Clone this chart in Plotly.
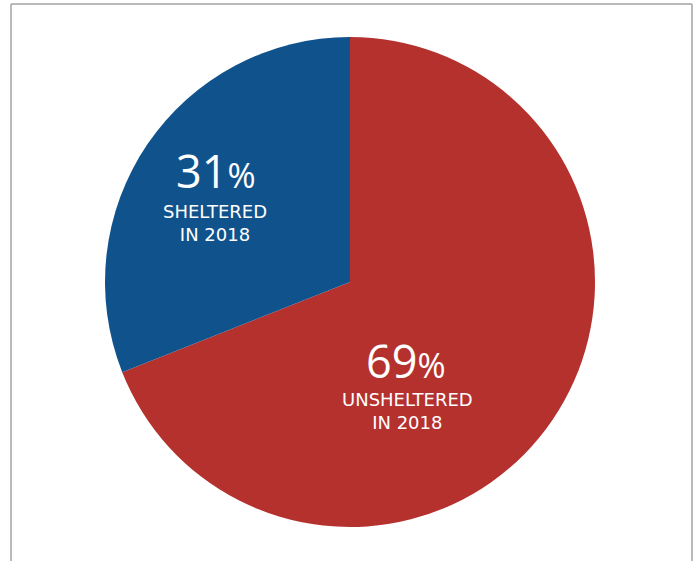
import plotly.graph_objects as go

# Data
categories = ["Unsheltered", "Sheltered"]
values = [69, 31]
label_lines = ["UNSHELTERED<br>IN 2018", "SHELTERED<br>IN 2018"]
colors = ["#B5312E", "#10538C"]

W, H = 695, 561
L, R, T, B = 105, 100, 37, 34
PW, PH = W - L - R, H - T - B

def px(x):
    return (x - L) / PW

def py(y):
    return (H - B - y) / PH

fig = go.Figure(go.Pie(
    labels=categories,
    values=values,
    sort=False,
    direction="clockwise",
    rotation=0,
    marker=dict(colors=colors, line=dict(width=0)),
    textinfo="none",
    hoverinfo="label+percent",
    showlegend=False,
))

# label placement (pixel centres)
num_pos = [(406, 360), (216, 170)]
txt_pos = [(407, 411), (215, 223)]
NUM_FONT = "Open Sans, Lato, sans-serif"
TXT_FONT = "DejaVu Sans, sans-serif"
annotations = []
for i, v in enumerate(values):
    annotations.append(dict(
        x=px(num_pos[i][0]), y=py(num_pos[i][1]), xref="paper", yref="paper",
        text=f"{v}<span style='font-size:34px'>%</span>", showarrow=False,
        font=dict(family=NUM_FONT, size=45, color="white"),
        xanchor="center", yanchor="middle",
    ))
    annotations.append(dict(
        x=px(txt_pos[i][0]), y=py(txt_pos[i][1]), xref="paper", yref="paper",
        text=label_lines[i], showarrow=False,
        font=dict(family=TXT_FONT, size=18, color="white"),
        xanchor="center", yanchor="middle", align="center",
    ))

border = dict(color="#A3A3A3", width=1.5)
shapes = [
    dict(type="line", xref="paper", yref="paper", x0=px(11), x1=px(11), y0=py(4), y1=py(570), line=border),
    dict(type="line", xref="paper", yref="paper", x0=px(11), x1=px(692), y0=py(4), y1=py(4), line=border),
    dict(type="line", xref="paper", yref="paper", x0=px(692), x1=px(692), y0=py(4), y1=py(570), line=border),
]

fig.update_layout(
    width=W, height=H,
    margin=dict(l=L, r=R, t=T, b=B),
    paper_bgcolor="white", plot_bgcolor="white",
    annotations=annotations,
    shapes=shapes,
)

fig.write_html("out.html")
